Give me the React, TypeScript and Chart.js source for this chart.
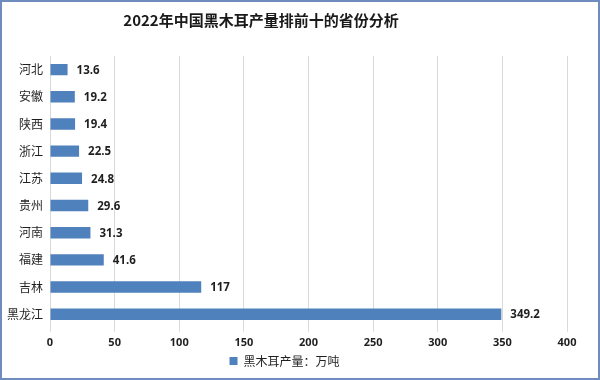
import React, { useEffect, useRef } from "react";
import { Chart, registerables } from "chart.js";

Chart.register(...registerables);

const categories = ["河北", "安徽", "陕西", "浙江", "江苏", "贵州", "河南", "福建", "吉林", "黑龙江"];
const values = [13.6, 19.2, 19.4, 22.5, 24.8, 29.6, 31.3, 41.6, 117, 349.2];
const valueLabels = ["13.6", "19.2", "19.4", "22.5", "24.8", "29.6", "31.3", "41.6", "117", "349.2"];
const seriesName = "黑木耳产量：万吨";
const titleText = "2022年中国黑木耳产量排前十的省份分析";

const valueLabelPlugin = {
  id: "valueLabels",
  afterDatasetsDraw(chart: any) {
    const ctx = chart.ctx;
    const meta = chart.getDatasetMeta(0);
    ctx.save();
    ctx.font = "bold 11.5px 'Open Sans', 'Liberation Sans', sans-serif";
    ctx.fillStyle = "#1f1f1f";
    ctx.textAlign = "left";
    ctx.textBaseline = "middle";
    meta.data.forEach((el: any, i: number) => {
      ctx.fillText(valueLabels[i], el.x + 9, el.y + 1);
    });
    ctx.restore();
  },
};

export default function App() {
  const ref = useRef<HTMLCanvasElement | null>(null);
  useEffect(() => {
    if (!ref.current) return;
    const chart = new Chart(ref.current, {
      type: "bar",
      data: {
        labels: categories,
        datasets: [
          {
            label: seriesName,
            data: values,
            backgroundColor: "#4f81bd",
            borderWidth: 0,
            barPercentage: 0.42,
            categoryPercentage: 1,
          },
        ],
      },
      options: {
        indexAxis: "y",
        animation: false,
        responsive: false,
        maintainAspectRatio: false,
        layout: { padding: { left: 0, right: 31, top: 54, bottom: 1 } },
        scales: {
          x: {
            min: 0,
            max: 400,
            ticks: {
              stepSize: 50,
              color: "#1f1f1f",
              font: { family: "'Open Sans', 'Liberation Sans', sans-serif", size: 11, weight: "bold" },
              padding: 4,
            },
            grid: { color: "#d9d9d9", drawTicks: true, tickLength: 4 },
            border: { display: false },
          },
          y: {
            afterFit: (scale: any) => {
              scale.width = 48;
            },
            ticks: {
              color: "#1f1f1f",
              font: { family: "'Noto Sans CJK SC', serif", size: 12 },
              padding: 7,
            },
            grid: { display: false, drawTicks: false, tickLength: 0 },
            border: { display: true, color: "#d9d9d9" },
          },
        },
        plugins: {
          title: { display: false },
          legend: {
            display: true,
            position: "bottom",
            labels: {
              boxWidth: 8,
              boxHeight: 8,
              color: "#1f1f1f",
              font: { family: "'Noto Sans CJK SC', serif", size: 12 },
              padding: 2,
            },
          },
          tooltip: { enabled: false },
        },
      } as any,
      plugins: [valueLabelPlugin],
    });
    return () => chart.destroy();
  }, []);
  return (
    <div
      style={{
        position: "fixed",
        left: 0,
        top: 0,
        width: 600,
        height: 380,
        boxSizing: "border-box",
        border: "2px solid #6f8cbf",
        background: "#fff",
      }}
    >
      <div
        style={{
          position: "absolute",
          left: 0,
          top: 8,
          width: 518,
          textAlign: "center",
          font: "bold 15px 'Noto Sans CJK SC', sans-serif",
          lineHeight: "20px",
          color: "#1a1a1a",
        }}
      >
        {titleText}
      </div>
      <canvas ref={ref} width={596} height={376} style={{ display: "block" }} />
    </div>
  );
}
